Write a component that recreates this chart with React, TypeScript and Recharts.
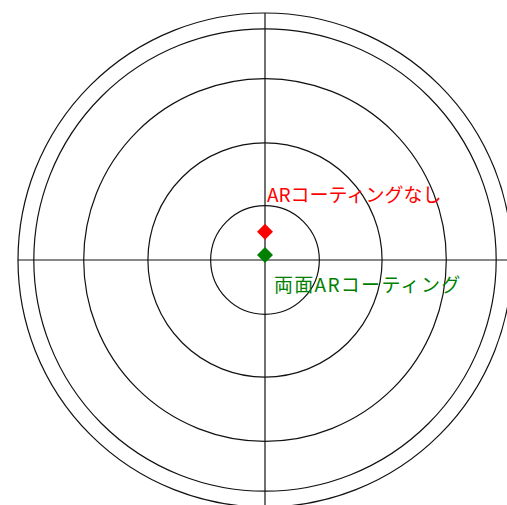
import React from 'react';
import { RadarChart, Radar, PolarGrid, PolarAngleAxis, PolarRadiusAxis } from 'recharts';

const directions = ['上', '右', '下', '左'];
const noCoating = [0.57, 0, 0, 0];
const bothCoating = [0.1, 0, 0, 0];
const ringValues = [1.1, 2.37, 3.67, 4.68, 5];
const seriesNames = ['ARコーティングなし', '両面ARコーティング'];

const data = directions.map((d, i) => ({ dir: d, none: noCoating[i], both: bothCoating[i] }));

const makeDot = (color: string, label: string, dx: number, dy: number, spacing: number) => (props: any) => {
  const { cx, cy, index } = props;
  if (index !== 0) return <g key={`e-${index}`} />;
  return (
    <g key={`d-${index}`}>
      <polygon
        points={`${cx},${cy - 8} ${cx + 8},${cy} ${cx},${cy + 8} ${cx - 8},${cy}`}
        fill={color}
      />
      <text
        x={cx + dx}
        y={cy + dy}
        fill={color}
        fontSize={19}
        letterSpacing={spacing}
        fontFamily='"Noto Sans CJK JP", sans-serif'
      >
        {label}
      </text>
    </g>
  );
};

export default function App() {
  return (
    <div style={{ position: 'absolute', left: 0, top: 0, background: '#fff' }}>
      <RadarChart
        width={507}
        height={505}
        data={data}
        cx={265}
        cy={260}
        outerRadius={247}
        startAngle={90}
        endAngle={-270}
        margin={{ top: 0, right: 0, bottom: 0, left: 0 }}
      >
        <PolarGrid gridType="circle" stroke="#111" strokeWidth={1.2} />
        <PolarAngleAxis dataKey="dir" tick={false} axisLine={false} tickLine={false} />
        <PolarRadiusAxis
          type="number"
          domain={[0, 5]}
          allowDataOverflow
          ticks={ringValues as any}
          tick={false}
          axisLine={false}
          tickLine={false}
        />
        <Radar
          name={seriesNames[0]}
          dataKey="none"
          stroke="none"
          fill="none"
          isAnimationActive={false}
          dot={makeDot('#ff0000', seriesNames[0], 2, -30, 0)}
        />
        <Radar
          name={seriesNames[1]}
          dataKey="both"
          stroke="none"
          fill="none"
          isAnimationActive={false}
          dot={makeDot('#008000', seriesNames[1], 9, 37, 1.3)}
        />
      </RadarChart>
    </div>
  );
}
